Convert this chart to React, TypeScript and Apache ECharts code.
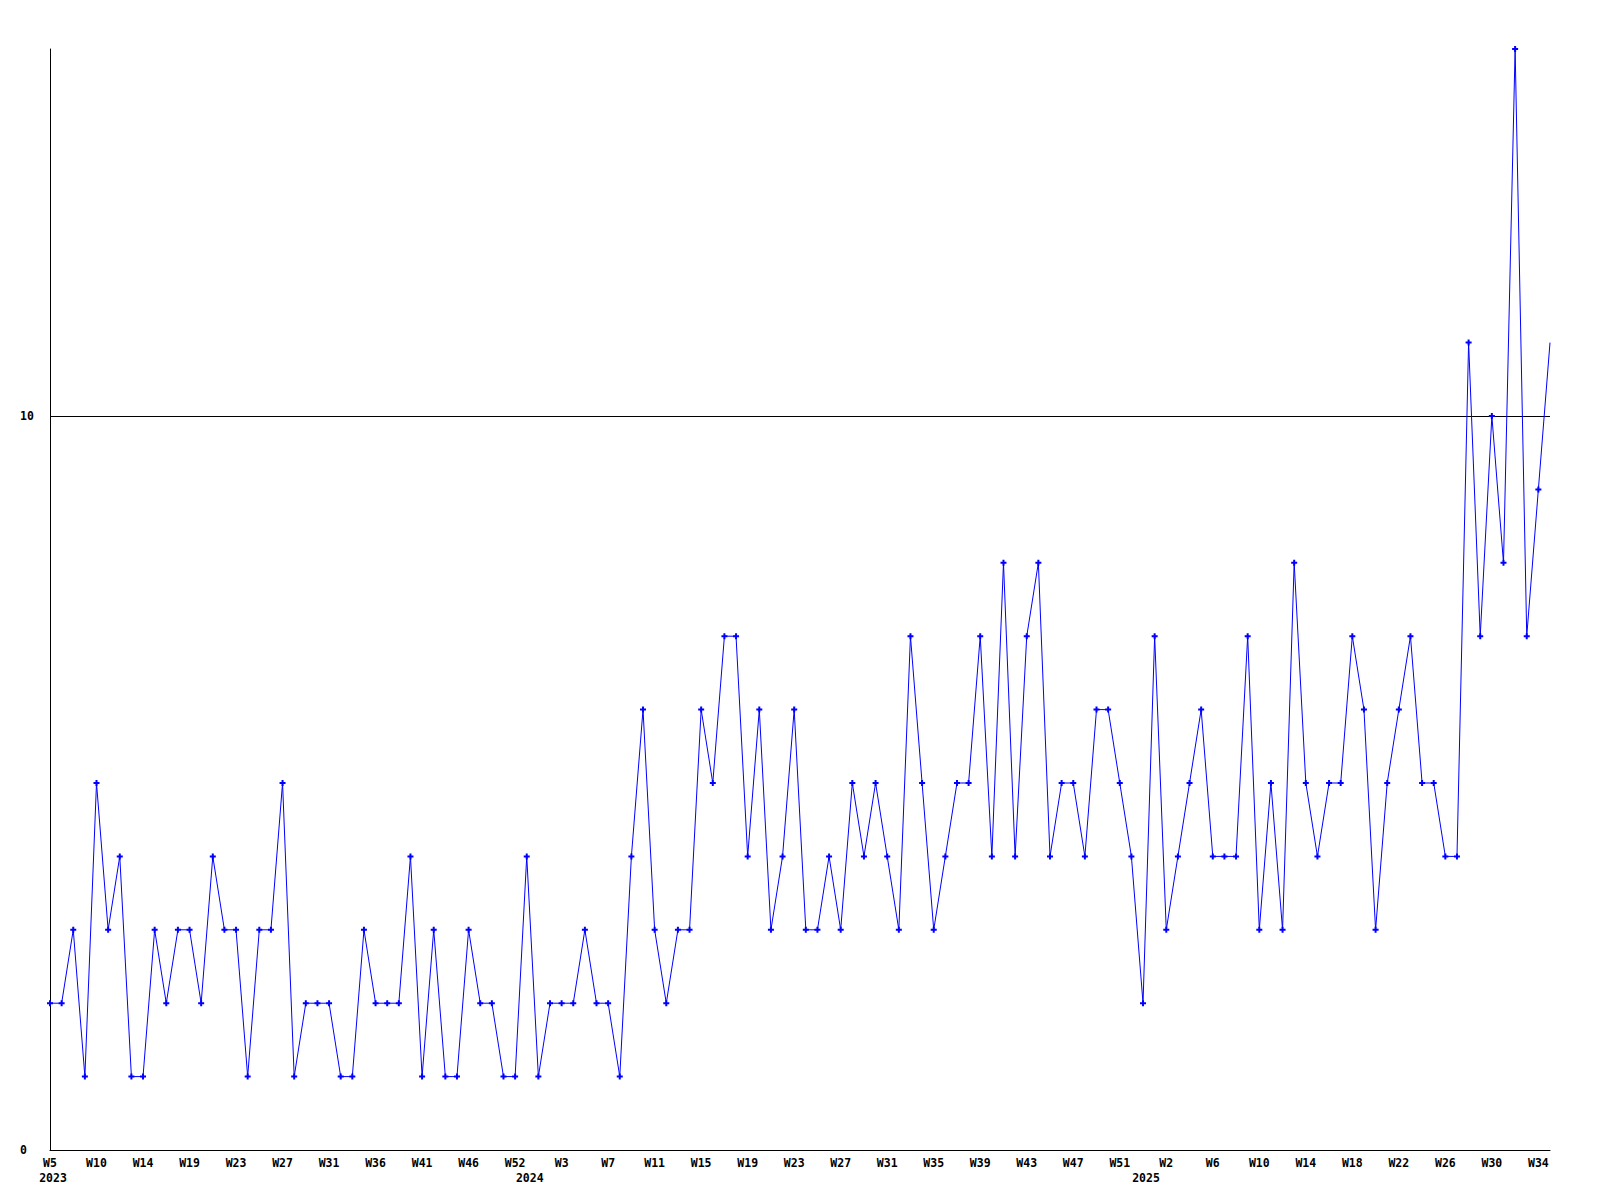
import React, { useEffect, useRef } from "react";
import * as echarts from "echarts";

// Week numbers shown on the axis (2023 has some missing weeks)
const weeks2023 = [5, 6, 8, 9, 10, 11, 12, 13, 14, 15, 16, 18, 19, 20, 21, 22, 23, 24, 25, 26, 27, 28, 29, 30, 31, 32, 33, 35, 36, 37, 38, 40, 41, 42, 43, 45, 46, 47, 48, 50, 52];
const weeks2024 = Array.from({ length: 53 }, (_, i) => i); // W0..W52
const weeks2025 = Array.from({ length: 36 }, (_, i) => i); // W0..W35

const values2023 = [2, 2, 3, 1, 5, 3, 4, 1, 1, 3, 2, 3, 3, 2, 4, 3, 3, 1, 3, 3, 5, 1, 2, 2, 2, 1, 1, 3, 2, 2, 2, 4, 1, 3, 1, 1, 3, 2, 2, 1, 1];
const values2024 = [4, 1, 2, 2, 2, 3, 2, 2, 1, 4, 6, 3, 2, 3, 3, 6, 5, 7, 7, 4, 6, 3, 4, 6, 3, 3, 4, 3, 5, 4, 5, 4, 3, 7, 5, 3, 4, 5, 5, 7, 4, 8, 4, 7, 8, 4, 5, 5, 4, 6, 6, 5, 4];
const values2025 = [2, 7, 3, 4, 5, 6, 4, 4, 4, 7, 3, 5, 3, 8, 5, 4, 5, 5, 7, 6, 3, 5, 6, 7, 5, 5, 4, 4, 11, 7, 10, 8, 15, 7, 9, 11];

const yTicks = [0, 10];

const categories = [
  ...weeks2023.map((w) => `2023|W${w}`),
  ...weeks2024.map((w) => `2024|W${w}`),
  ...weeks2025.map((w) => `2025|W${w}`),
];
const allValues = [...values2023, ...values2024, ...values2025];
const yearStartIdx = [0, values2023.length, values2023.length + values2024.length];

const FONT = "'DejaVu Sans Mono', monospace";

export default function App() {
  const ref = useRef<HTMLDivElement>(null);
  useEffect(() => {
    if (!ref.current) return;
    const chart = echarts.init(ref.current, null, { renderer: "svg" });
    const data = allValues.map((v, i) =>
      i === allValues.length - 1 ? { value: v, symbol: "none" } : v
    );
    chart.setOption({
      animation: false,
      backgroundColor: "#ffffff",
      grid: { left: 50, right: 50, top: 49, bottom: 50, containLabel: false },
      xAxis: [
        {
          type: "category",
          data: categories,
          boundaryGap: false,
          axisLine: { show: true, lineStyle: { color: "#000", width: 1 } },
          axisTick: { show: false },
          splitLine: { show: false },
          axisLabel: {
            interval: 3,
            margin: 7,
            color: "#000",
            fontFamily: FONT,
            fontWeight: "bold",
            fontSize: 11.5,
            formatter: (v: string) => v.split("|")[1],
          },
        },
        {
          type: "category",
          data: categories,
          position: "bottom",
          boundaryGap: false,
          axisLine: { show: false },
          axisTick: { show: false },
          splitLine: { show: false },
          axisLabel: {
            interval: (idx: number) => yearStartIdx.includes(idx),
            margin: 22,
            padding: [0, 0, 0, 6],
            color: "#000",
            fontFamily: FONT,
            fontWeight: "bold",
            fontSize: 11.5,
            formatter: (v: string) => v.split("|")[0],
          },
        },
      ],
      yAxis: {
        type: "value",
        min: 0,
        max: 15,
        interval: 10,
        axisLine: { show: true, lineStyle: { color: "#000", width: 1 } },
        axisTick: { show: false },
        splitLine: { show: false },
        axisLabel: {
          showMaxLabel: false,
          align: "left",
          margin: 30,
          color: "#000",
          fontFamily: FONT,
          fontWeight: "bold",
          fontSize: 11.5,
          formatter: (v: number) => (yTicks.includes(v) ? String(v) : ""),
        },
      },
      series: [
        {
          type: "line",
          xAxisIndex: 0,
          data,
          symbol: "path://M2,0h2v2h2v2h-2v2h-2v-2h-2v-2h2z",
          symbolSize: 6,
          showAllSymbol: true,
          lineStyle: { color: "#0000ff", width: 1 },
          itemStyle: { color: "#0000ff" },
          z: 3,
          markLine: {
            silent: true,
            symbol: "none",
            label: { show: false },
            lineStyle: { color: "#000", width: 1, type: "solid" },
            data: [{ yAxis: yTicks[1] }],
            z: 1,
          },
        },
      ],
    });
    return () => chart.dispose();
  }, []);
  return (
    <div
      ref={ref}
      style={{ position: "absolute", left: 0, top: 0, width: 1600, height: 1200 }}
    />
  );
}
